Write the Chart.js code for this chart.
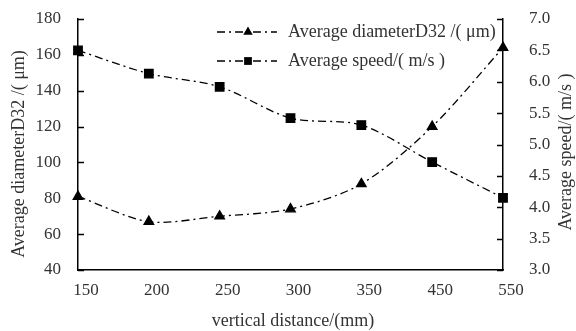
<!DOCTYPE html>
<html>
<head>
<meta charset="utf-8">
<script src="https://cdn.jsdelivr.net/npm/chart.js@4"></script>
<style>
  html, body { margin: 0; padding: 0; background: #fff; }
  #wrap { width: 576px; height: 331px; }
</style>
</head>
<body>
<div id="wrap"><canvas id="speedChart" width="576" height="331"></canvas></div>
<script>
const distances = ['150', '200', '250', '300', '350', '450', '550'];
const diameterD32 = [81, 67, 70, 74, 88, 120, 164];
const avgSpeed = [6.5, 6.13, 5.92, 5.42, 5.31, 4.72, 4.15];

const diameterLabel = 'Average diameterD32 /( μm)';
const speedLabel = 'Average speed/( m/s )';
const leftTitle = 'Average diameterD32 /( μm)';
const rightTitle = 'Average speed/( m/s )';
const bottomTitle = 'vertical distance/(mm)';

const serif = '"Liberation Serif", "DejaVu Serif", serif';
const textColor = '#333333';
const dashStyle = [8, 4, 2, 4];

// inward tick marks on both value axes, axis titles and the legend box
const decorPlugin = {
    id: 'decor',
    afterDraw(chart) {
        const ctx = chart.ctx;
        const area = chart.chartArea;
        ctx.save();
        ctx.strokeStyle = '#000';
        ctx.lineWidth = 1.5;
        ['y', 'y1'].forEach(id => {
            const sc = chart.scales[id];
            const x = id === 'y' ? area.left : area.right;
            const dir = id === 'y' ? 1 : -1;
            sc.ticks.forEach((t, i) => {
                const py = Math.round(sc.getPixelForTick(i)) + 0.5;
                ctx.beginPath();
                ctx.moveTo(x, py);
                ctx.lineTo(x + dir * 6, py);
                ctx.stroke();
            });
        });

        // axis titles
        ctx.fillStyle = textColor;
        ctx.font = '18px ' + serif;
        ctx.textAlign = 'center';
        ctx.textBaseline = 'middle';
        ctx.save();
        ctx.translate(19, 154);
        ctx.rotate(-Math.PI / 2);
        ctx.fillText(leftTitle, 0, 0);
        ctx.restore();
        ctx.save();
        ctx.translate(566, 152);
        ctx.rotate(-Math.PI / 2);
        ctx.fillText(rightTitle, 0, 0);
        ctx.restore();
        ctx.fillText(bottomTitle, 293, 321);

        // legend
        const rows = [
            { text: diameterLabel, style: 'triangle', y: 32 },
            { text: speedLabel, style: 'rect', y: 61 }
        ];
        rows.forEach(r => {
            ctx.save();
            ctx.setLineDash(dashStyle);
            ctx.lineWidth = 1.3;
            ctx.beginPath();
            ctx.moveTo(217, r.y);
            ctx.lineTo(277, r.y);
            ctx.stroke();
            ctx.restore();
            ctx.fillStyle = '#000';
            Chart.helpers.drawPoint(ctx, {
                pointStyle: r.style,
                radius: 5.5,
                rotation: 0,
                borderWidth: 0
            }, 248, r.y);
            ctx.fillStyle = textColor;
            ctx.textAlign = 'left';
            ctx.fillText(r.text, 288, r.y);
        });
        ctx.restore();
    }
};

new Chart(document.getElementById('speedChart'), {
    type: 'line',
    data: {
        labels: distances,
        datasets: [
            {
                label: diameterLabel,
                data: diameterD32,
                yAxisID: 'y',
                borderColor: '#000',
                borderWidth: 1.3,
                borderDash: dashStyle,
                tension: 0.3,
                pointStyle: 'triangle',
                pointRadius: 5.5,
                pointBackgroundColor: '#000',
                pointBorderColor: '#000',
                clip: false
            },
            {
                label: speedLabel,
                data: avgSpeed,
                yAxisID: 'y1',
                borderColor: '#000',
                borderWidth: 1.3,
                borderDash: dashStyle,
                tension: 0.3,
                pointStyle: 'rect',
                pointRadius: 6,
                pointBackgroundColor: '#000',
                pointBorderColor: '#000',
                clip: false
            }
        ]
    },
    options: {
        responsive: false,
        animation: false,
        layout: { padding: { top: 19, left: 0, right: 0, bottom: 0 } },
        plugins: {
            legend: { display: false },
            tooltip: { enabled: false }
        },
        scales: {
            x: {
                type: 'category',
                offset: false,
                grid: { display: false, drawTicks: false },
                border: { display: true, color: '#000', width: 1.5 },
                ticks: {
                    color: textColor,
                    font: { family: serif, size: 17 },
                    padding: 10,
                    labelOffset: 8,
                    maxRotation: 0
                },
                afterFit(scale) { scale.height = 61; }
            },
            y: {
                position: 'left',
                min: 40,
                max: 180,
                grid: { display: false, drawTicks: false },
                border: { display: true, color: '#000', width: 1.5 },
                ticks: {
                    stepSize: 20,
                    color: textColor,
                    font: { family: serif, size: 17 },
                    padding: 17
                },
                afterFit(scale) {
                    scale.width = 78;
                    scale.paddingTop = 0;
                    scale.paddingBottom = 0;
                }
            },
            y1: {
                position: 'right',
                min: 3,
                max: 7,
                grid: { display: false, drawTicks: false },
                border: { display: true, color: '#000', width: 1.5 },
                ticks: {
                    stepSize: 0.5,
                    color: textColor,
                    font: { family: serif, size: 17 },
                    padding: 26,
                    callback: v => v.toFixed(1)
                },
                afterFit(scale) {
                    scale.width = 73;
                    scale.paddingTop = 0;
                    scale.paddingBottom = 0;
                }
            }
        }
    },
    plugins: [decorPlugin]
});
</script>
</body>
</html>
